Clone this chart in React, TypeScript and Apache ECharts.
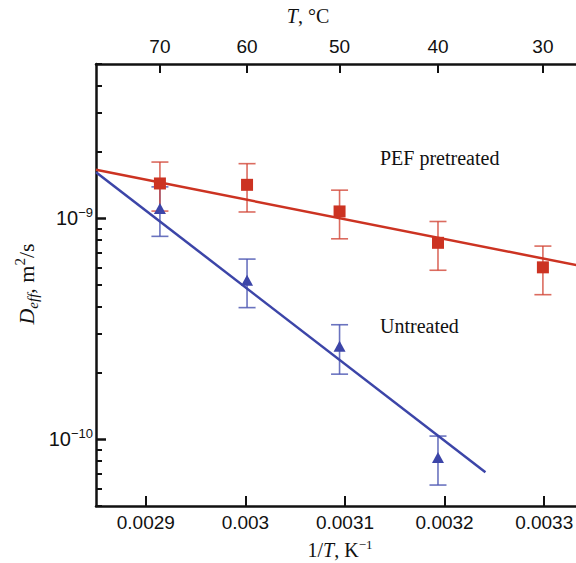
import React, { useEffect, useRef } from "react";
import * as echarts from "echarts";

// ---- data ----
const tempsC = [70, 60, 50, 40, 30];
const pefD = [1.44e-9, 1.42e-9, 1.076e-9, 7.76e-10, 6.01e-10];
const pefErr = [0.36e-9, 0.35e-9, 0.267e-9, 1.93e-10, 1.49e-10];
const untreatedTempsC = [70, 60, 50, 40];
const untreatedD = [1.11e-9, 5.25e-10, 2.64e-10, 8.29e-11];
const untreatedErr = [0.28e-9, 1.3e-10, 0.665e-10, 2.07e-11];
const pefFitInvT = [0.00285, 0.00335];
const pefFitD = [1.66e-9, 5.93e-10];
const untreatedFitInvT = [0.00285, 0.003241];
const untreatedFitD = [1.62e-9, 7.1e-11];
const xTicks = [0.0029, 0.003, 0.0031, 0.0032, 0.0033];
const topTicksC = [70, 60, 50, 40, 30];
const yMajorExp = [-10, -9];
const yMinorMult = [2, 3, 4, 5, 6, 7, 8, 9];
const yDecades = [-11, -10, -9];

const X_MIN = 0.00285;
const X_MAX = 0.00335;
const Y_MIN = 5e-11;
const Y_MAX = 5e-9;

const RED = "#cc3322";
const RED_ERR = "rgba(210,70,55,0.8)";
const BLUE = "#3c45a8";
const BLUE_ERR = "rgba(80,90,180,0.85)";
const INK = "#111111";
const SANS = "'Liberation Sans', Arial, sans-serif";
const SERIF = "'Liberation Serif', 'Times New Roman', serif";

const invT = (c: number) => 1 / (c + 273.15);
const lg = (v: number) => Math.log10(v);

function errorSeries(temps: number[], vals: number[], errs: number[], color: string) {
  return {
    type: "custom",
    xAxisIndex: 0,
    yAxisIndex: 0,
    z: 2,
    data: temps.map((c, i) => [invT(c), lg(vals[i] - errs[i]), lg(vals[i] + errs[i])]),
    encode: { x: 0, y: [1, 2] },
    renderItem: (params: any, api: any) => {
      const x = api.value(0);
      const lo = api.coord([x, api.value(1)]);
      const hi = api.coord([x, api.value(2)]);
      const w = 8.5;
      const style = { stroke: color, lineWidth: 1.6, fill: "none" };
      return {
        type: "group",
        children: [
          { type: "line", shape: { x1: lo[0], y1: lo[1], x2: hi[0], y2: hi[1] }, style },
          { type: "line", shape: { x1: lo[0] - w, y1: lo[1], x2: lo[0] + w, y2: lo[1] }, style },
          { type: "line", shape: { x1: hi[0] - w, y1: hi[1], x2: hi[0] + w, y2: hi[1] }, style },
        ],
      };
    },
  };
}

export default function App() {
  const ref = useRef<HTMLDivElement>(null);
  useEffect(() => {
    if (!ref.current) return;
    const chart = echarts.init(ref.current, undefined, { renderer: "svg" });
    const minorVals: number[] = [];
    yDecades.forEach((e) =>
      yMinorMult.forEach((m) => {
        const v = lg(m * Math.pow(10, e));
        if (v >= lg(Y_MIN) - 1e-9 && v <= lg(Y_MAX) + 1e-9) minorVals.push(v);
      })
    );
    const axisLine = { show: true, lineStyle: { color: INK, width: 2.5 } };
    const option: any = {
      animation: false,
      backgroundColor: "#ffffff",
      grid: { left: 96, top: 64, width: 498, height: 442, containLabel: false },
      xAxis: [
        {
          type: "value",
          position: "bottom",
          min: X_MIN,
          max: X_MAX,
          axisLine,
          splitLine: { show: false },
          axisTick: { show: true, inside: true, length: 10, customValues: xTicks, lineStyle: { color: INK, width: 2 } },
          axisLabel: {
            customValues: xTicks,
            formatter: (v: number) => String(Number(v.toFixed(6))),
            fontSize: 19,
            fontFamily: SANS,
            color: INK,
            margin: 7,
          },
        },
        {
          type: "value",
          position: "top",
          min: X_MIN,
          max: X_MAX,
          axisLine,
          splitLine: { show: false },
          axisTick: {
            show: true,
            inside: true,
            length: 9,
            customValues: topTicksC.map(invT),
            lineStyle: { color: INK, width: 2 },
          },
          axisLabel: {
            customValues: topTicksC.map(invT),
            formatter: (v: number) => String(Math.round(1 / v - 273.15)),
            fontSize: 19,
            fontFamily: SANS,
            color: INK,
            margin: 8,
          },
        },
      ],
      yAxis: [
        {
          type: "value",
          position: "left",
          min: lg(Y_MIN),
          max: lg(Y_MAX),
          axisLine,
          splitLine: { show: false },
          axisTick: { show: true, inside: true, length: 10, customValues: yMajorExp, lineStyle: { color: INK, width: 2.5 } },
          axisLabel: {
            customValues: yMajorExp,
            margin: 3,
            formatter: (v: number) => `{b|10}{s|\u2212${Math.round(-v)}}`,
            rich: {
              b: { fontSize: 20, fontFamily: SANS, color: INK, lineHeight: 24, verticalAlign: "middle" },
              s: { fontSize: 13, fontFamily: SANS, color: INK, lineHeight: 15, verticalAlign: "top" },
            },
          },
        },
        {
          type: "value",
          position: "left",
          min: lg(Y_MIN),
          max: lg(Y_MAX),
          axisLine: { show: false },
          splitLine: { show: false },
          axisTick: { show: true, inside: true, length: 6, customValues: minorVals, lineStyle: { color: INK, width: 2 } },
          axisLabel: { show: false },
        },
      ],
      series: [
        errorSeries(untreatedTempsC, untreatedD, untreatedErr, BLUE_ERR),
        errorSeries(tempsC, pefD, pefErr, RED_ERR),
        {
          type: "line",
          xAxisIndex: 0,
          yAxisIndex: 0,
          z: 3,
          symbol: "none",
          clip: true,
          lineStyle: { color: RED, width: 2.5 },
          data: pefFitInvT.map((x, i) => [x, lg(pefFitD[i])]),
        },
        {
          type: "line",
          xAxisIndex: 0,
          yAxisIndex: 0,
          z: 3,
          symbol: "none",
          clip: true,
          lineStyle: { color: BLUE, width: 2.5 },
          data: untreatedFitInvT.map((x, i) => [x, lg(untreatedFitD[i])]),
        },
        {
          type: "scatter",
          xAxisIndex: 0,
          yAxisIndex: 0,
          z: 4,
          symbol: "rect",
          symbolSize: 12,
          itemStyle: { color: RED, opacity: 1 },
          data: tempsC.map((c, i) => [invT(c), lg(pefD[i])]),
        },
        {
          type: "scatter",
          xAxisIndex: 0,
          yAxisIndex: 0,
          z: 4,
          symbol: "triangle",
          symbolSize: [12, 11],
          itemStyle: { color: BLUE, opacity: 1 },
          data: untreatedTempsC.map((c, i) => [invT(c), lg(untreatedD[i])]),
        },
      ],
      graphic: [
        {
          type: "text",
          x: 380,
          y: 158,
          style: { text: "PEF pretreated", fontSize: 20, fontFamily: SERIF, fill: INK, align: "left", verticalAlign: "middle" },
        },
        {
          type: "text",
          x: 380,
          y: 326,
          style: { text: "Untreated", fontSize: 20, fontFamily: SERIF, fill: INK, align: "left", verticalAlign: "middle" },
        },
        {
          type: "text",
          x: 308,
          y: 16,
          style: {
            text: "{i|T}{n|, \u00b0C}",
            align: "center",
            verticalAlign: "middle",
            rich: {
              i: { fontSize: 20, fontFamily: SERIF, fontStyle: "italic", fill: INK },
              n: { fontSize: 20, fontFamily: SERIF, fill: INK },
            },
          },
        },
        {
          type: "text",
          x: 340,
          y: 550,
          style: {
            text: "{n|1/}{i|T}{n|, K}{s|\u22121}",
            align: "center",
            verticalAlign: "middle",
            rich: {
              i: { fontSize: 20, fontFamily: SERIF, fontStyle: "italic", fill: INK, lineHeight: 24, verticalAlign: "middle" },
              n: { fontSize: 20, fontFamily: SERIF, fill: INK, lineHeight: 24, verticalAlign: "middle" },
              s: { fontSize: 13, fontFamily: SERIF, fill: INK, lineHeight: 13, verticalAlign: "top" },
            },
          },
        },
        {
          type: "text",
          x: 26,
          y: 284,
          rotation: Math.PI / 2,
          style: {
            text: "{i|D}{sub|eff}{n|, m}{s|2}{n|/s}",
            align: "center",
            verticalAlign: "middle",
            rich: {
              i: { fontSize: 22, fontFamily: SERIF, fontStyle: "italic", fill: INK, lineHeight: 28, verticalAlign: "middle" },
              sub: { fontSize: 15, fontFamily: SERIF, fontStyle: "italic", fill: INK, lineHeight: 15, verticalAlign: "bottom" },
              n: { fontSize: 22, fontFamily: SERIF, fill: INK, lineHeight: 28, verticalAlign: "middle" },
              s: { fontSize: 15, fontFamily: SERIF, fill: INK, lineHeight: 15, verticalAlign: "top" },
            },
          },
        },
      ],
    };
    chart.setOption(option);
    return () => chart.dispose();
  }, []);
  return (
    <div style={{ position: "absolute", left: 0, top: 0, width: 576, height: 563, overflow: "hidden", background: "#fff" }}>
      <div ref={ref} style={{ width: 620, height: 563 }} />
    </div>
  );
}
